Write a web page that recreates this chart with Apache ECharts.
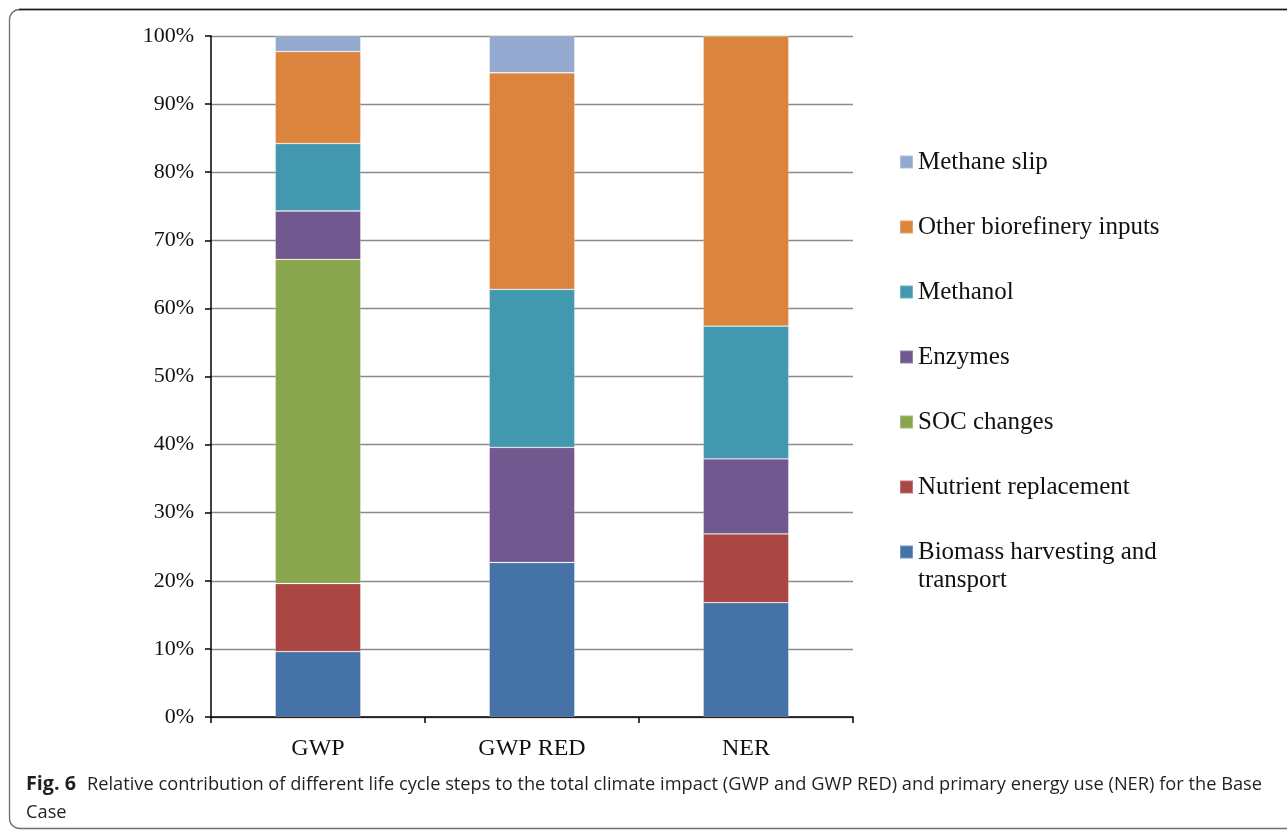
<!DOCTYPE html>
<html>
<head>
<meta charset="utf-8">
<script src="https://cdn.jsdelivr.net/npm/echarts@6/dist/echarts.min.js"></script>
<style>
  html, body { margin: 0; padding: 0; background: #fff; }
  #chart { width: 1287px; height: 830px; }
</style>
</head>
<body>
<div id="chart"></div>
<script>
// Life cycle stages, percent share of each indicator's total
const categories = ['GWP', 'GWP RED', 'NER'];

const biomassHarvesting = [9.6, 22.7, 16.8];
const nutrientReplacement = [10.0, 0, 10.1];
const socChanges = [47.6, 0, 0];
const enzymes = [7.1, 16.9, 11.0];
const methanol = [9.9, 23.2, 19.5];
const otherInputs = [13.5, 31.8, 42.6];
const methaneSlip = [2.3, 5.4, 0];

const seriesNames = [
  'Biomass harvesting and transport',
  'Nutrient replacement',
  'SOC changes',
  'Enzymes',
  'Methanol',
  'Other biorefinery inputs',
  'Methane slip'
];
const seriesValues = [biomassHarvesting, nutrientReplacement, socChanges, enzymes, methanol, otherInputs, methaneSlip];
const palette = ['#4572A7', '#AA4643', '#89A54E', '#71588F', '#4198AF', '#DB843D', '#93A9CF'];

const captionLabel = 'Fig. 6';
const captionText = 'Relative contribution of different life cycle steps to the total climate impact (GWP and GWP RED) and primary energy use (NER) for the Base';
const captionTail = 'Case';

const serif = '"Liberation Serif", "Times New Roman", serif';
const sans = '"Open Sans", "Noto Sans", sans-serif';

// horizontal squeeze so the caption fills its line width
function fitScale(text, font, width) {
  const ctx = document.createElement('canvas').getContext('2d');
  ctx.font = font;
  return width / ctx.measureText(text).width;
}
const labelScale = fitScale(captionLabel, 'bold 19px ' + sans, 50);
const textScale = fitScale(captionText, '19px ' + sans, 1175);

const chart = echarts.init(document.getElementById('chart'), null, { renderer: 'canvas' });

// the two-line entry sits in its own legend so its swatch lines up with the first line
const wrappedName = seriesNames[0];
const singleLineNames = seriesNames.slice(1).reverse();

const legendCommon = {
  orient: 'vertical',
  left: 899,
  padding: 0,
  itemWidth: 13,
  itemHeight: 13,
  itemGap: 37,
  icon: 'rect',
  textStyle: { fontFamily: serif, fontSize: 25, lineHeight: 28, color: '#111' }
};

chart.setOption({
  animation: false,
  color: palette,
  grid: { left: 211, right: 434, top: 36, bottom: 113, containLabel: false },
  legend: [
    Object.assign({}, legendCommon, { top: 148, data: singleLineNames }),
    Object.assign({}, legendCommon, {
      top: 510,
      data: [wrappedName],
      formatter: function () { return '\nBiomass harvesting and\ntransport'; }
    })
  ],
  xAxis: {
    type: 'category',
    data: categories,
    axisLine: { lineStyle: { color: '#000', width: 1.5 } },
    axisTick: { show: true, length: 6, interval: 0, lineStyle: { color: '#000', width: 1.5 } },
    axisLabel: { fontFamily: serif, fontSize: 24, color: '#111', margin: 20 }
  },
  yAxis: {
    type: 'value',
    min: 0,
    max: 100,
    interval: 10,
    axisLine: { show: true, lineStyle: { color: '#000', width: 1.5 } },
    axisTick: { show: true, length: 6, lineStyle: { color: '#000', width: 1.5 } },
    axisLabel: { fontFamily: serif, fontSize: 22, color: '#111', margin: 17, formatter: '{value}%' },
    splitLine: { show: true, lineStyle: { color: '#8a8a8a', width: 1.3 } }
  },
  series: seriesNames.map(function (name, i) {
    return {
      name: name,
      type: 'bar',
      stack: 'total',
      barWidth: '40%',
      data: seriesValues[i],
      itemStyle: { color: palette[i], borderColor: 'rgba(255,255,255,0.25)', borderWidth: 0.8 }
    };
  }),
  graphic: [
    {
      type: 'rect',
      silent: true,
      shape: { x: 9.5, y: 9.5, width: 1400, height: 819, r: 10 },
      style: { fill: 'none', stroke: '#6f6f6f', lineWidth: 1.3 }
    },
    {
      type: 'line',
      silent: true,
      shape: { x1: 19, y1: 9.5, x2: 1287, y2: 9.5 },
      style: { stroke: '#1a1a1a', lineWidth: 1.6 }
    },
    {
      type: 'text',
      silent: true,
      x: 26, y: 785, scaleX: labelScale,
      style: { text: captionLabel, font: 'bold 19px ' + sans, fill: '#231f20', verticalAlign: 'middle' }
    },
    {
      type: 'text',
      silent: true,
      x: 87, y: 785, scaleX: textScale,
      style: { text: captionText, font: '19px ' + sans, fill: '#231f20', verticalAlign: 'middle' }
    },
    {
      type: 'text',
      silent: true,
      x: 26, y: 813, scaleX: textScale,
      style: { text: captionTail, font: '19px ' + sans, fill: '#231f20', verticalAlign: 'middle' }
    }
  ]
});
</script>
</body>
</html>
